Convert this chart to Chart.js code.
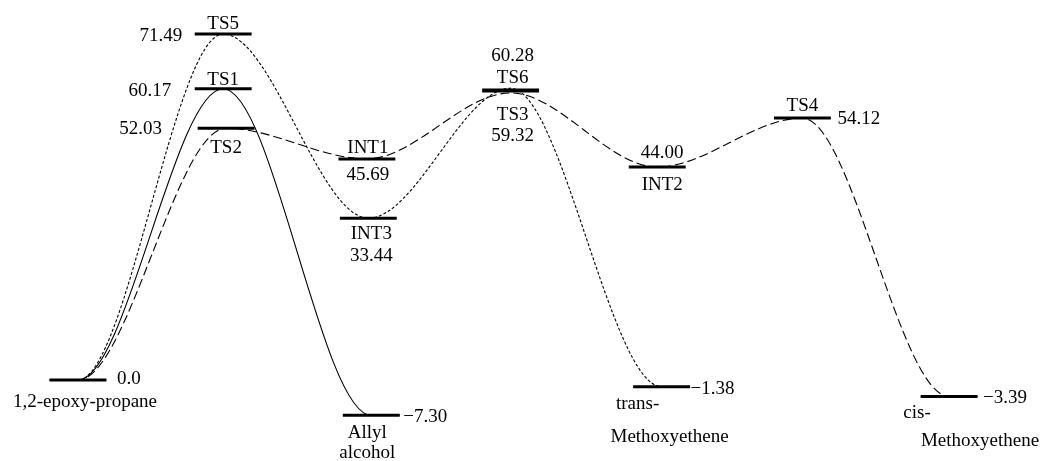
<!DOCTYPE html>
<html>
<head>
<meta charset="utf-8">
<script src="https://cdn.jsdelivr.net/npm/chart.js@4.4.0/dist/chart.umd.min.js"></script>
<style>
  body { margin: 0; background: #fff; }
  #wrap { width: 1045px; height: 461px; position: relative; }
</style>
</head>
<body>
<div id="wrap"><canvas id="chart"></canvas></div>
<script>
// species on the profile (index used by the paths below)
const species = ["R", "TS1", "TS2", "TS5", "INT1", "INT3", "TS3", "TS6", "INT2", "TS4", "P1", "P2", "P3"];
// relative energies, kcal/mol
const energies = [0.0, 60.17, 52.03, 71.49, 45.69, 33.44, 59.32, 60.28, 44.00, 54.12, -7.30, -1.38, -3.39];
// reaction coordinate column of each level
const steps = [0, 1, 1.02, 1, 1.99, 2, 2.98, 2.98, 3.99, 4.99, 2.02, 4.02, 6];
// names, one entry per text line
const names = [
  ["1,2-epoxy-propane"], ["TS1"], ["TS2"], ["TS5"], ["INT1"], ["INT3"],
  ["TS3"], ["TS6"], ["INT2"], ["TS4"], ["Allyl", "alcohol"],
  ["trans-", "Methoxyethene"], ["cis-", "Methoxyethene"]
];
// reaction paths as lists of species
const pathSolid = ["R", "TS1", "P1"];
const pathDotted = ["R", "TS5", "INT3", "TS6", "P2"];
const pathDashed = ["R", "TS2", "INT1", "TS3", "INT2", "TS4", "P3"];
// levels that are drawn as one bar
const sharedBar = ["TS3", "TS6"];

// label placement (pixel offsets from the level centre)
const energyPos = [
  { dx: 39, dy: -3, align: "left" }, { dx: -52, dy: 0, align: "right" },
  { dx: -64, dy: -1, align: "right" }, { dx: -41, dy: 0, align: "right" },
  { dx: 1, dy: 14, align: "center" }, { dx: 3, dy: 36, align: "center" },
  { dx: 2, dy: 41, align: "center" }, { dx: 2, dy: -34, align: "center" },
  { dx: 5, dy: -16, align: "center" }, { dx: 35, dy: -1, align: "left" },
  { dx: 32, dy: 0, align: "left" }, { dx: 29, dy: 0, align: "left" },
  { dx: 34, dy: 0, align: "left" }
];
const namePos = [
  [{ dx: 7, dy: 20 }], [{ dx: 0, dy: -11 }], [{ dx: 0, dy: 18 }], [{ dx: 0, dy: -12 }],
  [{ dx: 1, dy: -13 }], [{ dx: 3, dy: 14 }], [{ dx: 2, dy: 20 }], [{ dx: 2, dy: -12 }],
  [{ dx: 5, dy: 16 }], [{ dx: 0, dy: -14 }], [{ dx: -4, dy: 16 }, { dx: -4, dy: 36 }],
  [{ dx: -24, dy: 15 }, { dx: 8, dy: 48 }], [{ dx: -32, dy: 15 }, { dx: 31, dy: 43 }]
];

const HALF = 0.196;
const TEXT_SHIFT = 2;

function fmt(e) {
  if (e === 0) return "0.0";
  return (e < 0 ? "\u2212" : "") + Math.abs(e).toFixed(2);
}

function pathData(path) {
  const idx = path.map(s => species.indexOf(s));
  const pts = idx.map(i => ({ x: steps[i], y: energies[i] }));
  const first = idx[0], last = idx[idx.length - 1];
  // flat ends so the curve leaves each end level horizontally
  pts.unshift({ x: steps[first] - HALF, y: energies[first] });
  pts.push({ x: steps[last] + HALF, y: energies[last] });
  return pts;
}

const curve = (data, dash) => ({
  data: data,
  borderColor: "#000",
  borderWidth: 1.1,
  borderDash: dash,
  pointRadius: 0,
  cubicInterpolationMode: "monotone",
  fill: false,
  order: 1
});

const bar = (x, y, w) => ({
  data: [{ x: x - HALF, y: y }, { x: x + HALF, y: y }],
  borderColor: "#000",
  borderWidth: w,
  borderCapStyle: "butt",
  pointRadius: 0,
  fill: false,
  order: 0
});

const levelSets = [];
species.forEach((s, i) => {
  if (!sharedBar.includes(s)) levelSets.push(bar(steps[i], energies[i], 3));
});
{
  const idx = sharedBar.map(s => species.indexOf(s));
  const mean = idx.reduce((a, i) => a + energies[i], 0) / idx.length;
  levelSets.push(bar(steps[idx[0]], mean, 4));
}

const labelPlugin = {
  id: "labels",
  afterDatasetsDraw(chart) {
    const ctx = chart.ctx;
    const xs = chart.scales.x, ys = chart.scales.y;
    ctx.save();
    ctx.fillStyle = "#000";
    ctx.font = '19px "Liberation Serif", "Times New Roman", serif';
    ctx.textBaseline = "middle";
    species.forEach((s, i) => {
      const px = xs.getPixelForValue(steps[i]);
      const py = ys.getPixelForValue(energies[i]) + TEXT_SHIFT;
      const ep = energyPos[i];
      ctx.textAlign = ep.align;
      ctx.fillText(fmt(energies[i]), px + ep.dx, py + ep.dy);
      names[i].forEach((line, k) => {
        const np = namePos[i][k];
        ctx.textAlign = "center";
        ctx.fillText(line, px + np.dx, py + np.dy);
      });
    });
    ctx.restore();
  }
};

new Chart(document.getElementById("chart").getContext("2d"), {
  type: "line",
  data: {
    datasets: [
      ...levelSets,
      curve(pathData(pathSolid), []),
      curve(pathData(pathDotted), [3, 2]),
      curve(pathData(pathDashed), [9, 4])
    ]
  },
  options: {
    responsive: true,
    maintainAspectRatio: false,
    animation: false,
    layout: { padding: 0 },
    plugins: { legend: { display: false }, tooltip: { enabled: false } },
    scales: {
      x: { type: "linear", display: false, min: -0.5373, max: 6.661 },
      y: { type: "linear", display: false, min: -16.73, max: 78.52 }
    }
  },
  plugins: [labelPlugin]
});
</script>
</body>
</html>
